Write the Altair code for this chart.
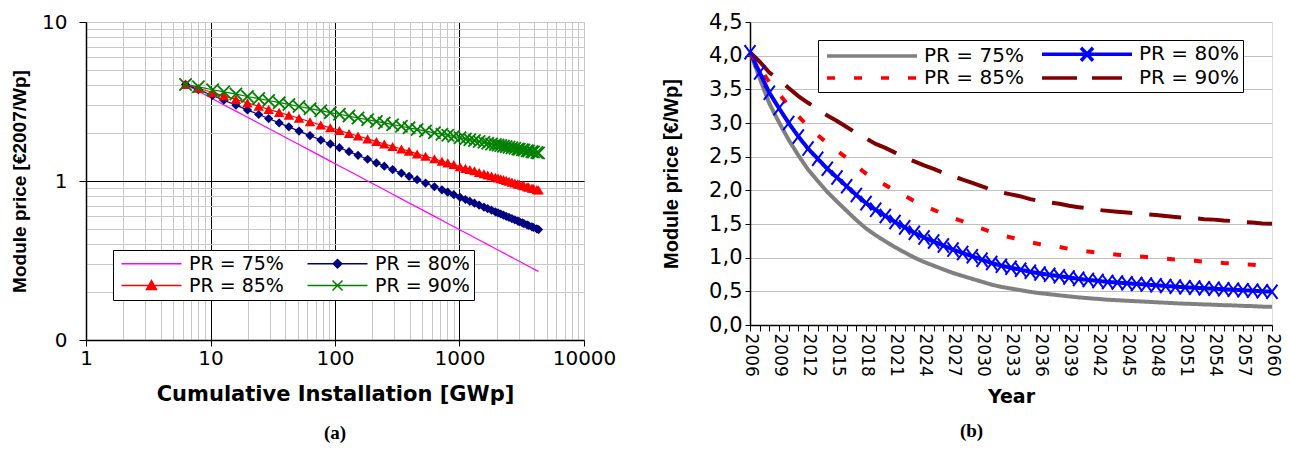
import altair as alt
import pandas as pd

# ---------------- data ----------------
years = list(range(2006, 2061))
cumulative_gwp = [6.3, 8.0, 10.4, 12.8, 16.0, 19.8, 24.4, 29.3, 35.6, 42.6,
                  51.4, 63.0, 76.9, 91.7, 108.5, 129.6, 153.1, 182.7, 215.0, 249.0,
                  290.3, 341.6, 393.4, 456.6, 533.8, 629.0, 722.6, 804.5, 899.6, 1010,
                  1116, 1211, 1319, 1438, 1572, 1684, 1808, 1942, 2040, 2143,
                  2255, 2372, 2499, 2637, 2783, 2940, 3023, 3199, 3292, 3488,
                  3592, 3814, 3931, 4179, 4313]
price_pr75 = [4.05, 3.665, 3.29, 3.01, 2.75, 2.52, 2.31, 2.14, 1.975, 1.833,
              1.695, 1.558, 1.434, 1.333, 1.243, 1.155, 1.078, 1.001, 0.936, 0.881,
              0.826, 0.772, 0.728, 0.685, 0.642, 0.599, 0.566, 0.541, 0.517, 0.492,
              0.473, 0.457, 0.441, 0.425, 0.410, 0.398, 0.387, 0.375, 0.368, 0.360,
              0.353, 0.346, 0.338, 0.331, 0.323, 0.316, 0.3125, 0.305, 0.3016, 0.2945,
              0.291, 0.284, 0.280, 0.273, 0.270]
price_pr80 = [4.05, 3.75, 3.45, 3.22, 3.00, 2.80, 2.62, 2.47, 2.32, 2.19,
              2.06, 1.93, 1.81, 1.71, 1.62, 1.53, 1.45, 1.37, 1.30, 1.24,
              1.18, 1.12, 1.07, 1.02, 0.97, 0.92, 0.88, 0.85, 0.82, 0.79,
              0.765, 0.745, 0.725, 0.705, 0.685, 0.67, 0.655, 0.64, 0.63, 0.62,
              0.61, 0.60, 0.59, 0.58, 0.57, 0.56, 0.555, 0.545, 0.54, 0.53,
              0.525, 0.515, 0.51, 0.50, 0.495]
price_pr85 = [4.05, 3.83, 3.60, 3.43, 3.26, 3.10, 2.95, 2.82, 2.70, 2.59,
              2.48, 2.36, 2.25, 2.16, 2.08, 1.99, 1.92, 1.84, 1.77, 1.71,
              1.65, 1.59, 1.54, 1.48, 1.43, 1.38, 1.33, 1.30, 1.27, 1.23,
              1.20, 1.18, 1.16, 1.13, 1.11, 1.09, 1.075, 1.057, 1.045, 1.033,
              1.021, 1.009, 0.997, 0.984, 0.971, 0.959, 0.953, 0.940, 0.934, 0.921,
              0.915, 0.902, 0.896, 0.883, 0.877]
price_pr90 = [4.05, 3.91, 3.75, 3.64, 3.52, 3.40, 3.30, 3.21, 3.11, 3.03,
              2.94, 2.85, 2.77, 2.69, 2.63, 2.56, 2.49, 2.43, 2.37, 2.32,
              2.26, 2.21, 2.16, 2.11, 2.06, 2.01, 1.97, 1.94, 1.91, 1.87,
              1.84, 1.82, 1.80, 1.77, 1.75, 1.73, 1.71, 1.695, 1.683, 1.670,
              1.657, 1.645, 1.632, 1.619, 1.605, 1.592, 1.585, 1.572, 1.565, 1.551,
              1.544, 1.530, 1.523, 1.509, 1.502]
series_names = ["PR = 75%", "PR = 80%", "PR = 85%", "PR = 90%"]

rows = []
for name, vals in zip(series_names, [price_pr75, price_pr80, price_pr85, price_pr90]):
    for yr, cum, p in zip(years, cumulative_gwp, vals):
        rows.append({"series": name, "year": yr, "cum": cum, "price": p})
df = pd.DataFrame(rows)

# ---------------- styles ----------------
left_colors = ["#FF00FF", "#000080", "#FF0000", "#008000"]
right_colors = ["#808080", "#0000FF", "#FF0000", "#800000"]
right_dashes = [[1, 0], [1, 0], [8, 19], [32, 17]]

X_MARK = "M-1,-1L1,1M-1,1L1,-1"
X_MARK_TALL = "M-1,-1.3L1,1.3M-1,1.3L1,-1.3"

# legend glyphs: line + marker (1 unit = 5 px)
DIAMOND_G = ("M5,-0.85L5.85,0L5,0.85L4.15,0Z"
             "M5,-0.55L5.55,0L5,0.55L4.45,0Z"
             "M5,-0.25L5.25,0L5,0.25L4.75,0Z")
TRIANGLE_G = ("M5,-1L6,0.8L4,0.8Z"
              "M5,-0.6L5.66,0.6L4.34,0.6Z"
              "M5,-0.2L5.33,0.4L4.67,0.4Z")
left_legend_paths = [
    "M-1,0H11",
    "M-1,0H11" + DIAMOND_G,
    "M-1,0H11" + TRIANGLE_G,
    "M-1,0H11M4,-1L6,1M4,1L6,-1",
]
right_legend_paths = [
    "M-1,0H17",
    "M-1,0H17M6.8,-1.3L9.2,1.3M6.8,1.3L9.2,-1.3",
    "M-1,0H0.6M4.4,0H6M9.8,0H11.4M15.2,0H16.8",
    "M-1,0H6M9,0H15",
]

x_ticks_a = [m * 10 ** e for e in range(0, 4) for m in range(1, 10)] + [10000]
y_ticks_a = [round(m * 10.0 ** e, 6) for e in (-1, 0) for m in range(1, 10)] + [10]

is_decade_x = "indexof([1,10,100,1000,10000], datum.value) >= 0"
is_inner_decade_x = "indexof([10,100,1000], datum.value) >= 0"
is_decade_y = "abs(datum.value-10)<1e-6 || abs(datum.value-1)<1e-6 || abs(datum.value-0.1)<1e-6"

x_axis_a = alt.Axis(
    values=x_ticks_a,
    labelExpr=is_decade_x + " ? format(datum.value, 'd') : ''",
    labelOverlap=False, labelFlush=False,
    labelFont="DejaVu Sans", labelFontSize=20, labelColor="black", labelPadding=2,
    grid=True,
    gridColor={"condition": {"test": is_inner_decade_x, "value": "#000000"}, "value": "#c8c8c8"},
    gridWidth=1,
    tickColor={"condition": {"test": is_decade_x, "value": "#000000"}, "value": "transparent"},
    tickSize=6,
    domainColor="black", domainWidth=1.5,
    title="Cumulative Installation [GWp]",
    titleFont="DejaVu Sans", titleFontSize=21, titleFontWeight="bold", titleColor="black",
    titlePadding=15,
)
y_axis_a = alt.Axis(
    values=y_ticks_a,
    labelExpr="abs(datum.value-10)<1e-6 ? '10' : (abs(datum.value-1)<1e-6 ? '1' : (abs(datum.value-0.1)<1e-6 ? '0' : ''))",
    labelOverlap=False, labelFlush=False,
    labelFont="DejaVu Sans", labelFontSize=20, labelColor="black", labelPadding=12,
    grid=True,
    gridColor={"condition": {"test": "abs(datum.value-1)<1e-6", "value": "#000000"}, "value": "#c8c8c8"},
    gridWidth=1,
    tickColor={"condition": {"test": is_decade_y, "value": "#000000"}, "value": "transparent"},
    tickSize=7,
    domainColor="black", domainWidth=1.5,
    title="Module price [€2007/Wp]",
    titleFont="Liberation Sans", titleFontSize=19, titleFontWeight="bold", titleColor="black",
    titlePadding=12,
)

base_a = alt.Chart(df).encode(
    x=alt.X("cum:Q", scale=alt.Scale(type="log", domain=[1, 10000], nice=False), axis=x_axis_a),
    y=alt.Y("price:Q", scale=alt.Scale(type="log", domain=[0.1, 10], nice=False), axis=y_axis_a),
)
# data-driven domain (alphabetical == series order) so that it is not merged with the legend scales
lines_a = base_a.mark_line(strokeWidth=1.2).encode(
    color=alt.Color("series:N", scale=alt.Scale(range=left_colors), legend=None),
)
diamonds_a = base_a.transform_filter(alt.datum.series == "PR = 80%").mark_point(
    shape="diamond", filled=True, size=85, opacity=1, color="#000080")
triangles_a = base_a.transform_filter(alt.datum.series == "PR = 85%").mark_point(
    shape="triangle-up", filled=True, size=110, opacity=1, color="#FF0000")
crosses_a = base_a.transform_filter(alt.datum.series == "PR = 90%").mark_point(
    shape=X_MARK, filled=False, size=150, strokeWidth=1.8, opacity=1, color="#008000")

leg_a = alt.Legend(
    title=None, orient="none", legendX=27, legendY=228, columns=2, direction="horizontal",
    symbolSize=100, symbolStrokeWidth=1.5, symbolOpacity=1,
    labelFont="DejaVu Sans", labelFontSize=19, labelColor="black", labelOffset=53, labelLimit=400,
    columnPadding=19, rowPadding=2, padding=4,
    strokeColor="black", fillColor="white",
)
legend_a = base_a.transform_filter("false").mark_point(filled=True).encode(
    fill=alt.Fill("series:N", scale=alt.Scale(domain=series_names, range=left_colors), legend=leg_a),
    stroke=alt.Stroke("series:N", scale=alt.Scale(domain=series_names, range=left_colors), legend=leg_a),
    shape=alt.Shape("series:N", scale=alt.Scale(domain=series_names, range=left_legend_paths), legend=leg_a),
)

left = alt.layer(lines_a, diamonds_a, triangles_a, crosses_a, legend_a).properties(
    width=498, height=318,
    title=alt.TitleParams("(a)", orient="bottom", font="Liberation Serif", fontSize=19,
                          fontWeight="bold", color="black", offset=20, anchor="middle", frame="group"),
)

# ---------------- right panel ----------------
y_vals_b = [0, 0.5, 1.0, 1.5, 2.0, 2.5, 3.0, 3.5, 4.0, 4.5]
x_axis_b = alt.Axis(
    values=years,
    labelExpr="(datum.value - 2006) % 3 == 0 ? format(datum.value, 'd') : ''",
    labelAngle=90, labelOverlap=False, labelFlush=False,
    labelFont="DejaVu Sans", labelFontSize=17, labelColor="black", labelPadding=2,
    grid=False, tickSize=6, tickColor="black",
    domainColor="black", domainWidth=1.5,
    title="Year", titleFont="DejaVu Sans", titleFontSize=19, titleFontWeight="bold",
    titleColor="black", titlePadding=11,
)
y_axis_b = alt.Axis(
    values=y_vals_b,
    labelExpr="replace(format(datum.value, '.1f'), '.', ',')",
    labelFont="DejaVu Sans", labelFontSize=21, labelColor="black", labelPadding=3,
    grid=True, gridColor="#c0c0c0", gridWidth=1,
    tickSize=5, tickColor="black",
    domainColor="black", domainWidth=1.5,
    title="Module price [€/Wp]", titleFont="Liberation Sans", titleFontSize=20,
    titleFontWeight="bold", titleColor="black", titlePadding=27,
)

base_b = alt.Chart(df).encode(
    x=alt.X("year:Q", scale=alt.Scale(domain=[2006, 2060], nice=False, zero=False), axis=x_axis_b),
    y=alt.Y("price:Q", scale=alt.Scale(domain=[0, 4.5], nice=False), axis=y_axis_b),
)
lines_b = base_b.mark_line(strokeWidth=4).encode(
    color=alt.Color("series:N", scale=alt.Scale(range=right_colors), legend=None),
    strokeDash=alt.StrokeDash("series:N", scale=alt.Scale(range=right_dashes), legend=None),
)
crosses_b = base_b.transform_filter(alt.datum.series == "PR = 80%").mark_point(
    shape=X_MARK_TALL, filled=False, size=121, strokeWidth=2, opacity=1, color="#0000FF")

leg_b = alt.Legend(
    title=None, orient="none", legendX=68, legendY=18, columns=2, direction="horizontal",
    symbolSize=100, symbolStrokeWidth=3.5, symbolOpacity=1,
    labelFont="DejaVu Sans", labelFontSize=20, labelColor="black", labelOffset=82, labelLimit=400,
    columnPadding=11, rowPadding=-2, padding=4,
    strokeColor="black", fillColor="white",
)
legend_b = base_b.transform_filter("false").mark_point(filled=True).encode(
    fill=alt.Fill("series:N", scale=alt.Scale(domain=series_names, range=right_colors), legend=leg_b),
    stroke=alt.Stroke("series:N", scale=alt.Scale(domain=series_names, range=right_colors), legend=leg_b),
    shape=alt.Shape("series:N", scale=alt.Scale(domain=series_names, range=right_legend_paths), legend=leg_b),
)

right = alt.layer(lines_b, crosses_b, legend_b).properties(
    width=522, height=303,
    title=alt.TitleParams("(b)", orient="bottom", font="Liberation Serif", fontSize=19,
                          fontWeight="bold", color="black", offset=16, anchor="middle", frame="bounds"),
)

chart = (
    alt.hconcat(left, right, spacing=44)
    .resolve_scale(color="independent", fill="independent", stroke="independent",
                   shape="independent", strokeDash="independent")
    .properties(padding={"left": 2, "top": 2, "right": 0, "bottom": 0})
    .configure_view(stroke="#8a8a8a", strokeWidth=2)
    .configure(font="DejaVu Sans", background="white")
)

chart.save("out.html", embed_options={"renderer": "svg", "actions": False})
